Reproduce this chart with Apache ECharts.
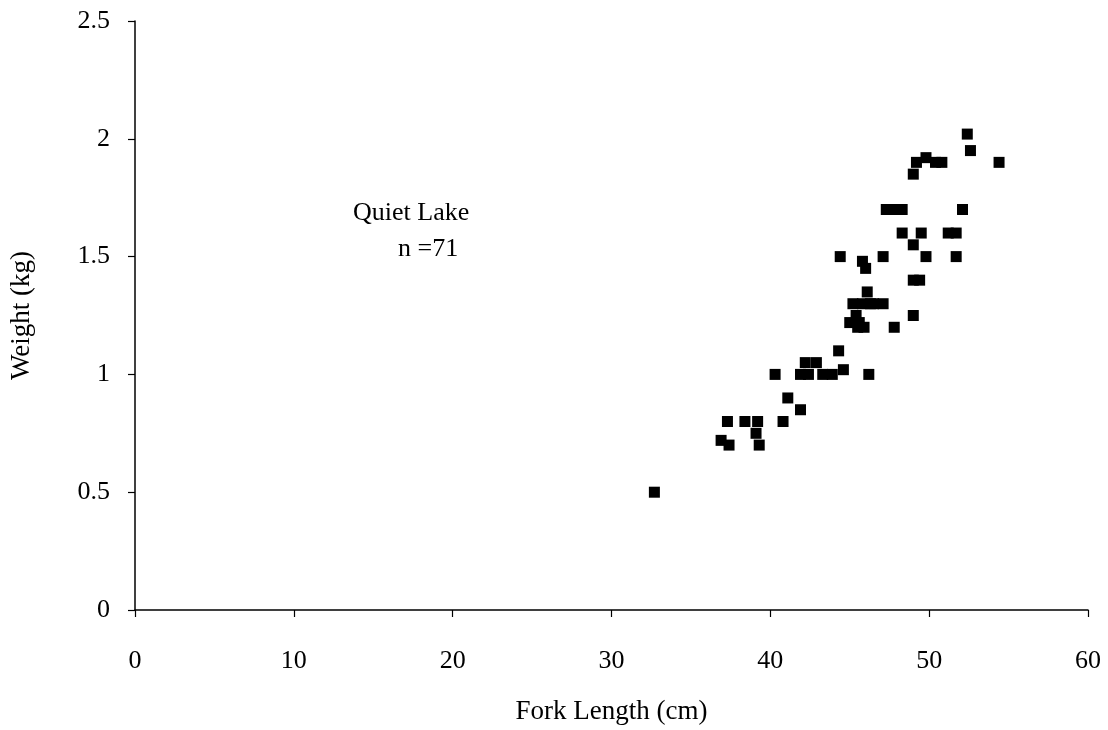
<!DOCTYPE html>
<html>
<head>
<meta charset="utf-8">
<script src="https://cdn.jsdelivr.net/npm/echarts@6/dist/echarts.min.js"></script>
<style>
  html, body { margin: 0; padding: 0; background: #fff; }
  #chart { width: 1108px; height: 730px; }
</style>
</head>
<body>
<div id="chart"></div>
<script>
  // fork length (cm) and weight (kg)
  var forkLength = [32.7, 36.9, 37.4, 37.3, 38.4, 39.2, 39.1, 39.3, 40.8, 41.1,
    41.9, 40.3, 41.9, 42.4, 42.2, 42.9, 43.3, 43.9, 44.6, 44.3,
    46.2, 45.0, 45.4, 45.5, 45.9, 47.8, 49.0, 45.2, 45.8, 46.5,
    47.1, 46.1, 49.0, 49.4, 44.4, 45.8, 46.0, 47.1, 49.8, 51.7,
    49.0, 48.3, 49.5, 51.2, 51.7, 47.3, 47.8, 48.3, 52.1, 49.0,
    49.2, 49.8, 50.4, 50.8, 52.4, 52.6, 54.4, 45.6, 46.3, 48.0];
  var weight = [0.50, 0.72, 0.70, 0.80, 0.80, 0.80, 0.75, 0.70, 0.80, 0.90,
    0.85, 1.00, 1.00, 1.00, 1.05, 1.05, 1.00, 1.00, 1.02, 1.10,
    1.00, 1.22, 1.25, 1.20, 1.20, 1.20, 1.25, 1.30, 1.30, 1.30,
    1.30, 1.35, 1.40, 1.40, 1.50, 1.48, 1.45, 1.50, 1.50, 1.50,
    1.55, 1.60, 1.60, 1.60, 1.60, 1.70, 1.70, 1.70, 1.70, 1.85,
    1.90, 1.92, 1.90, 1.90, 2.02, 1.95, 1.90, 1.22, 1.30, 1.70];
  var xTicks = [0, 10, 20, 30, 40, 50, 60];
  var yTicks = [0, 0.5, 1, 1.5, 2, 2.5];
  var noteLines = ['Quiet Lake', 'n =71'];

  var points = forkLength.map(function (x, i) { return [x, weight[i]]; });
  var font = '"Liberation Serif", "DejaVu Serif", serif';

  var myChart = echarts.init(document.getElementById('chart'));
  var option = {
    backgroundColor: '#fff',
    animation: false,
    grid: { left: 133, right: 20, top: 21, bottom: 118 },
    xAxis: {
      type: 'value',
      min: xTicks[0],
      max: xTicks[xTicks.length - 1],
      interval: 10,
      name: 'Fork Length (cm)',
      nameLocation: 'middle',
      nameGap: 88,
      nameTextStyle: { fontFamily: font, fontSize: 27, color: '#000' },
      axisLine: { lineStyle: { color: '#000', width: 1.5 } },
      axisTick: { show: true, length: 7, lineStyle: { color: '#000', width: 1.2 } },
      axisLabel: { fontFamily: font, fontSize: 26, color: '#000', margin: 38 },
      splitLine: { show: false }
    },
    yAxis: {
      type: 'value',
      min: yTicks[0],
      max: yTicks[yTicks.length - 1],
      interval: 0.5,
      name: 'Weight (kg)',
      nameLocation: 'middle',
      nameGap: 100,
      nameRotate: 90,
      nameTextStyle: { fontFamily: font, fontSize: 27, color: '#000' },
      axisLine: { show: true, lineStyle: { color: '#000', width: 1.5 } },
      axisTick: { show: true, length: 7, lineStyle: { color: '#000', width: 1.2 } },
      axisLabel: { fontFamily: font, fontSize: 26, color: '#000', margin: 25 },
      splitLine: { show: false }
    },
    graphic: [
      {
        type: 'text',
        left: 353, top: 200,
        style: { text: noteLines[0], font: '26px ' + font, fill: '#000' }
      },
      {
        type: 'text',
        left: 398, top: 236,
        style: { text: noteLines[1], font: '26px ' + font, fill: '#000' }
      }
    ],
    series: [
      {
        type: 'scatter',
        data: points,
        symbol: 'rect',
        symbolSize: 11,
        itemStyle: { color: '#000', opacity: 1 }
      }
    ]
  };
  myChart.setOption(option);
  window.addEventListener('resize', function () { myChart.resize(); });
</script>
</body>
</html>
